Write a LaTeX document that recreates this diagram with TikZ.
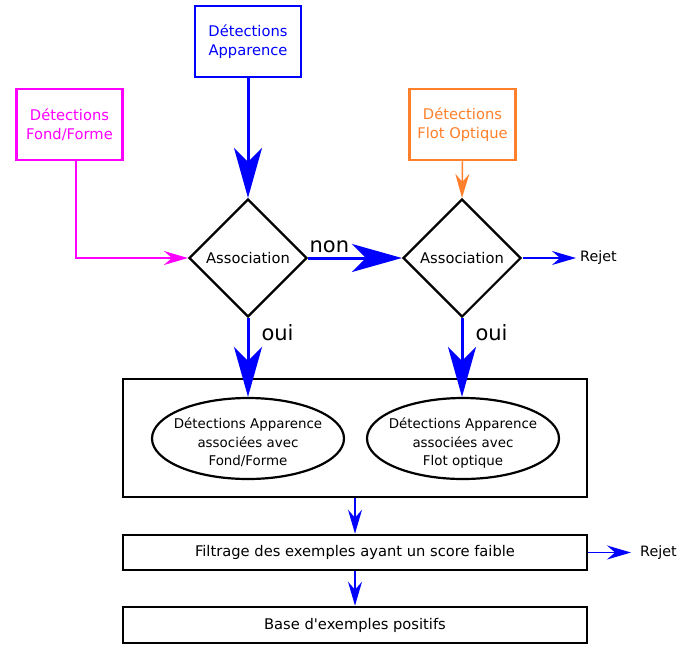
\documentclass[tikz,border=0pt]{standalone}
\usepackage{fontspec}
\setmainfont{DejaVu Sans}[Ligatures=TeXOff]
\usetikzlibrary{shapes.geometric,arrows.meta}
\definecolor{myblue}{HTML}{0000FF}
\definecolor{mymag}{HTML}{FF00FF}
\definecolor{myorange}{HTML}{FF7F2A}
\newcommand{\ovaltext}[1]{\raisebox{-8.5pt}[0pt][0pt]{\begin{tabular}{@{}c@{}}#1\end{tabular}}}
\tikzset{
  txt/.style={font=\fontsize{14.7}{19}\selectfont, align=center},
  srcbox/.style={draw, line width=2.6pt, minimum width=106pt, minimum height=71pt, inner sep=0pt, txt},
  decision/.style={draw, diamond, aspect=1, line width=2.2pt, minimum width=118pt, minimum height=118pt, inner sep=0pt, txt},
  oval/.style={draw, ellipse, line width=2.2pt, minimum width=192pt, minimum height=81pt, inner xsep=-10pt, inner ysep=0pt, font=\fontsize{13.4}{18.7}\selectfont},
  wide/.style={draw, line width=2.6pt, minimum width=464pt, inner sep=0pt, txt},
  bigarrow/.style={draw=myblue, line width=3pt, -{Stealth[length=50pt, width=28pt, inset=14pt]}},
  smallarrow/.style={line width=1.5pt, -{Stealth[length=24pt, width=14pt, inset=8pt]}},
  lbl/.style={font=\fontsize{21}{24}\selectfont, inner sep=0pt},
}
\begin{document}
\begin{tikzpicture}[x=1pt, y=-1pt]
\useasboundingbox (0,0) rectangle (693,646);
\node[srcbox, draw=myblue, text=myblue] (app) at (248,41.5) {Détections\\Apparence};
\node[srcbox, draw=mymag, text=mymag] (fond) at (69.5,124.5) {Détections\\Fond/Forme};
\node[srcbox, draw=myorange, text=myorange] (flot) at (462.5,124.5) {Détections\\Flot Optique};
\node[decision] (d1) at (248,258) {Association};
\node[decision] (d2) at (462,258) {Association};
\node[txt, anchor=west, inner sep=0pt, font=\fontsize{14.3}{18}\selectfont] (rej1) at (580,258) {Rejet};
\node[draw, line width=2.6pt, minimum width=464pt, minimum height=118pt, inner sep=0pt] (big) at (355,438) {};
\node[oval] (e1) at (248,438.5) {\ovaltext{Détections Apparence\\associées avec\\Fond/Forme}};
\node[oval] (e2) at (463,438.5) {\ovaltext{Détections Apparence\\associées avec\\Flot optique}};
\node[wide, minimum height=35pt] (filt) at (355,552.5) {Filtrage des exemples ayant un score faible};
\node[txt, anchor=west, inner sep=0pt, font=\fontsize{14.3}{18}\selectfont] (rej2) at (640,552.5) {Rejet};
\node[wide, minimum height=36pt] (base) at (355,625) {Base d'exemples positifs};
\coordinate (fondout) at ([xshift=6.5pt]fond.south);
\draw[bigarrow] (app.south) -- (d1.north);
\draw[smallarrow, draw=mymag] (fondout) |- (d1.west);
\draw[smallarrow, draw=myorange] (flot.south) -- (d2.north);
\draw[bigarrow] (d1.east) -- node[lbl, pos=0, anchor=base west, yshift=6pt] {non} (d2.west);
\draw[smallarrow, draw=myblue] ([xshift=1pt]d2.east) -- ([xshift=-4pt]rej1.west);
\draw[bigarrow] (d1.south) -- node[lbl, pos=0.18, anchor=west, xshift=12pt] {oui} (e1.north);
\draw[bigarrow] (d2.south) -- node[lbl, pos=0.18, anchor=west, xshift=12pt] {oui} (e2.north -| d2.south);
\draw[smallarrow, draw=myblue] (big.south) -- (filt.north);
\draw[smallarrow, draw=myblue] (filt.south) -- (base.north);
\draw[smallarrow, draw=myblue] (filt.east) -- ([xshift=-9pt]rej2.west);
\end{tikzpicture}
\end{document}
